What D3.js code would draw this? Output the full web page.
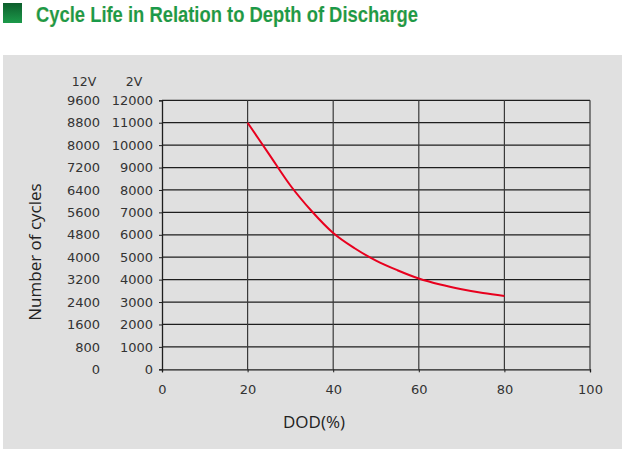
<!DOCTYPE html>
<html><head><meta charset="utf-8">
<script src="https://cdn.jsdelivr.net/npm/d3@7"></script>
<style>
html,body{margin:0;padding:0;background:#fff;}
svg{display:block;}
</style></head>
<body>
<script>
const title = "Cycle Life in Relation to Depth of Discharge";
const dod = [20, 25, 30, 35, 40, 45, 50, 55, 60, 65, 70, 75, 80];
const cycles2V = [11000, 9600, 8200, 7050, 6080, 5400, 4850, 4420, 4050, 3780, 3570, 3400, 3270];
const ticks2V = [0,1000,2000,3000,4000,5000,6000,7000,8000,9000,10000,11000,12000];
const ticks12V = [0,800,1600,2400,3200,4000,4800,5600,6400,7200,8000,8800,9600];
const xTicks = [0,20,40,60,80,100];
const xLabel = "DOD(%)";
const yLabel = "Number of cycles";
const col12 = "12V", col2 = "2V";

const W = 624, H = 450;
const svg = d3.select("body").append("svg").attr("width", W).attr("height", H);

const defs = svg.append("defs");
const g1 = defs.append("linearGradient").attr("id","sq").attr("x1",0).attr("y1",0).attr("x2",0).attr("y2",1);
g1.append("stop").attr("offset","0%").attr("stop-color","#0d5e2c");
g1.append("stop").attr("offset","100%").attr("stop-color","#1c9a4a");

svg.append("rect").attr("x",3).attr("y",3).attr("width",19).attr("height",20).attr("fill","url(#sq)");
svg.append("text").attr("x",36).attr("y",22)
  .attr("font-family","Liberation Sans, Arial, sans-serif").attr("font-weight","bold")
  .attr("font-size",22).attr("fill","#1a9a4a").attr("stroke","#c0aa40").attr("stroke-width",0.2)
  .attr("textLength",382).attr("lengthAdjust","spacingAndGlyphs")
  .text(title);

svg.append("rect").attr("x",3).attr("y",55).attr("width",619).attr("height",394).attr("fill","#e0e0e0");

const x = d3.scaleLinear().domain([0,100]).range([162,590]);
const y = d3.scaleLinear().domain([0,12000]).range([369.3,100.3]);
const y12 = d3.scaleLinear().domain([0,9600]).range([369.3,100.3]);

// horizontal grid
svg.append("g").selectAll("line").data(ticks2V.slice(1)).join("line")
  .attr("x1",x(0)).attr("x2",x(100)).attr("y1",d=>y(d)).attr("y2",d=>y(d))
  .attr("stroke","#1e1e1e").attr("stroke-width",1.2);
// vertical grid
svg.append("g").selectAll("line").data(xTicks.slice(1)).join("line")
  .attr("x1",d=>x(d)).attr("x2",d=>x(d)).attr("y1",y(12000)).attr("y2",y(0))
  .attr("stroke","#3a3a3a").attr("stroke-width",1.2);

const fontTick = "DejaVu Sans, sans-serif";
// left axis (2V)
const ax2 = svg.append("g").attr("transform",`translate(${x(0)},0)`)
  .call(d3.axisLeft(y).tickValues(ticks2V).tickSize(3).tickPadding(6).tickFormat(d3.format("d")));
ax2.select(".domain").attr("stroke","#1e1e1e").attr("stroke-width",1.3);
ax2.selectAll(".tick line").attr("stroke","#1e1e1e");
ax2.selectAll("text").attr("font-family",fontTick).attr("font-size",13).attr("fill","#333").attr("x",-9);

// 12V column
const ax12 = svg.append("g").attr("transform",`translate(100,0)`)
  .call(d3.axisLeft(y12).tickValues(ticks12V).tickSize(0).tickPadding(0).tickFormat(d3.format("d")));
ax12.select(".domain").remove();
ax12.selectAll("text").attr("font-family",fontTick).attr("font-size",13).attr("fill","#333");

// bottom axis
const axb = svg.append("g").attr("transform",`translate(0,${y(0)})`)
  .call(d3.axisBottom(x).tickValues(xTicks).tickSize(3).tickPadding(12));
axb.select(".domain").attr("stroke","#1e1e1e").attr("stroke-width",1.3);
axb.selectAll(".tick line").attr("stroke","#1e1e1e");
axb.selectAll("text").attr("font-family",fontTick).attr("font-size",13).attr("fill","#333");

// column headers
svg.append("text").attr("x",84).attr("y",86).attr("text-anchor","middle")
  .attr("font-family",fontTick).attr("font-size",12.5).attr("fill","#333").text(col12);
svg.append("text").attr("x",134).attr("y",86).attr("text-anchor","middle")
  .attr("font-family",fontTick).attr("font-size",12.5).attr("fill","#333").text(col2);

// axis titles
svg.append("text").attr("transform","translate(41,252) rotate(-90)").attr("text-anchor","middle")
  .attr("font-family","Open Sans, sans-serif").attr("font-size",17).attr("fill","#222").text(yLabel);
svg.append("text").attr("x",314).attr("y",428).attr("text-anchor","middle")
  .attr("font-family","Open Sans, sans-serif").attr("font-size",17).attr("fill","#222").text(xLabel);

// curve
const line = d3.line().x((d,i)=>x(dod[i])).y(d=>y(d)).curve(d3.curveMonotoneX);
svg.append("path").datum(cycles2V).attr("d",line).attr("fill","none")
  .attr("stroke","#e8001e").attr("stroke-width",2);
</script>
</body></html>
